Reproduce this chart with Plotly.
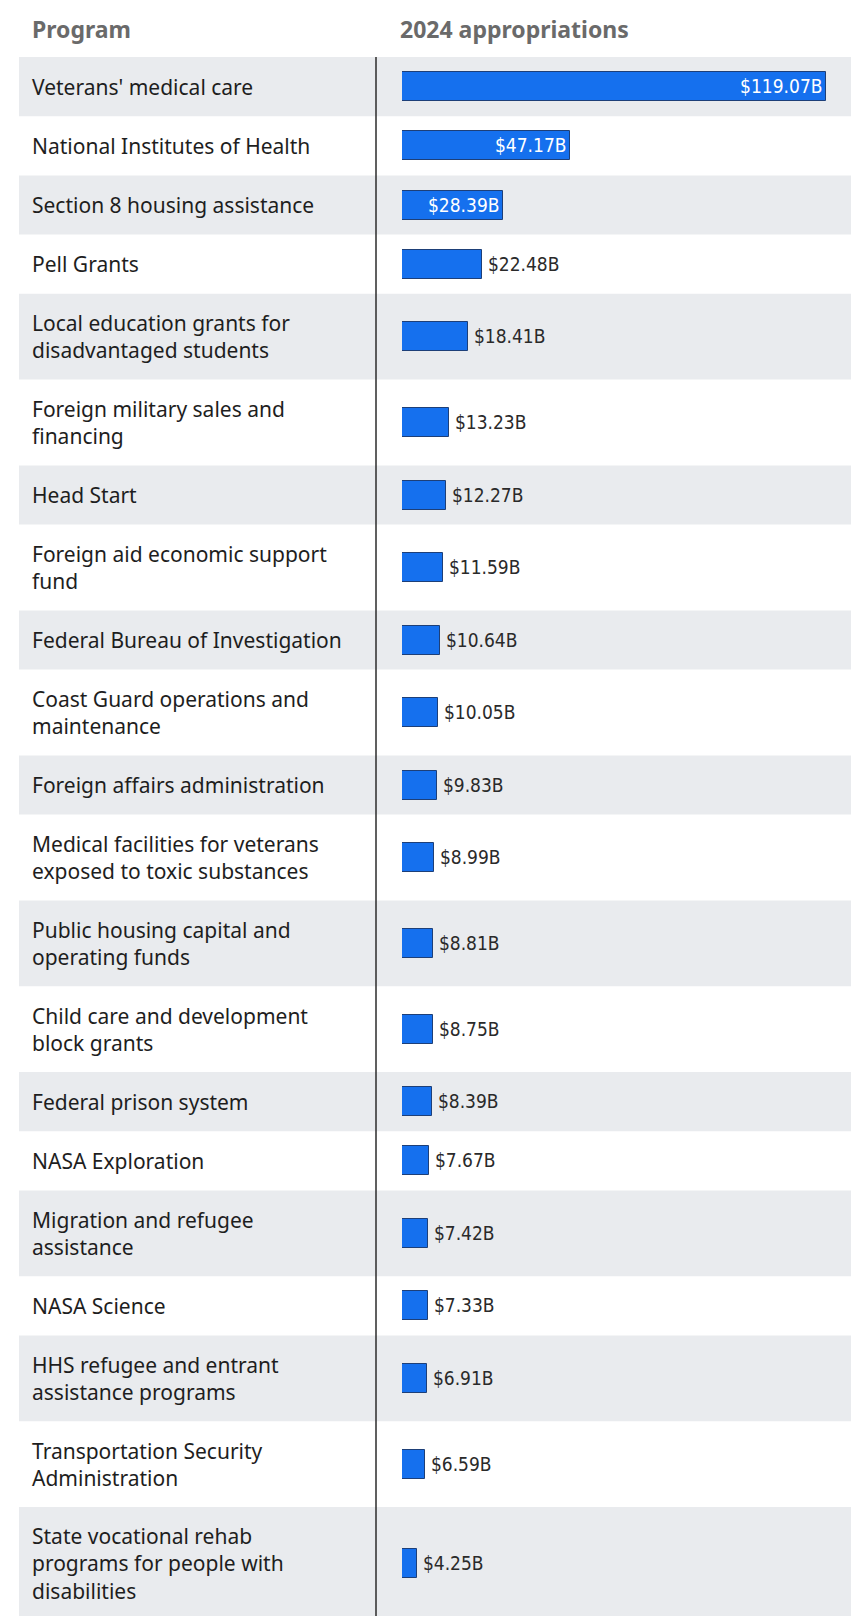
import plotly.graph_objects as go

programs = [
    "Veterans' medical care",
    "National Institutes of Health",
    "Section 8 housing assistance",
    "Pell Grants",
    "Local education grants for<br>disadvantaged students",
    "Foreign military sales and<br>financing",
    "Head Start",
    "Foreign aid economic support<br>fund",
    "Federal Bureau of Investigation",
    "Coast Guard operations and<br>maintenance",
    "Foreign affairs administration",
    "Medical facilities for veterans<br>exposed to toxic substances",
    "Public housing capital and<br>operating funds",
    "Child care and development<br>block grants",
    "Federal prison system",
    "NASA Exploration",
    "Migration and refugee<br>assistance",
    "NASA Science",
    "HHS refugee and entrant<br>assistance programs",
    "Transportation Security<br>Administration",
    "State vocational rehab<br>programs for people with<br>disabilities",
]
appropriations_b = [119.07, 47.17, 28.39, 22.48, 18.41, 13.23, 12.27, 11.59, 10.64,
                    10.05, 9.83, 8.99, 8.81, 8.75, 8.39, 7.67, 7.42, 7.33, 6.91, 6.59, 4.25]
label_inside = [True, True, True] + [False] * 18
headers = ["Program", "2024 appropriations"]

# page body has an 8px default margin: lay out in page pixels, then shift
OFF = 8
PAGE_W, PAGE_H = 866, 1616
W, H = PAGE_W - OFF, PAGE_H - OFF


def px(xp):
    return (xp - OFF) / W


def py(yp):
    return yp - OFF


HEADER_H = 57
PAD, LINE = 32.6, 26.6

tops, centers, bottoms = [], [], []
y = HEADER_H
for p in programs:
    n = p.count("<br>") + 1
    h = PAD + LINE * n
    tops.append(py(y))
    centers.append(py(y + h / 2))
    bottoms.append(py(y + h))
    y += h

BAR_X0 = 402
PX_PER_UNIT = 3.56
X_MAX = 125
x_end = BAR_X0 + PX_PER_UNIT * X_MAX

LABEL_FONT = "Liberation Sans Narrow, DejaVu Sans Condensed, Arial Narrow, sans-serif"

fig = go.Figure()
fig.add_trace(go.Bar(
    x=appropriations_b,
    y=centers,
    orientation="h",
    width=29,
    marker=dict(color="#1570ee", line=dict(color="#1d3f78", width=1)),
    texttemplate="\u2009$%{x:.2f}B",
    textposition=["inside" if v else "outside" for v in label_inside],
    insidetextanchor="end",
    insidetextfont=dict(color="white", size=19, family=LABEL_FONT),
    outsidetextfont=dict(color="#2a2a2a", size=19, family=LABEL_FONT),
    constraintext="none",
    cliponaxis=False,
    hoverinfo="skip",
))

shapes = []
for i in range(len(programs)):
    if i % 2 == 0:
        shapes.append(dict(type="rect", xref="paper", yref="y",
                           x0=px(19), x1=px(851), y0=tops[i], y1=bottoms[i],
                           fillcolor="#e9ebee", line=dict(width=0), layer="below"))
shapes.append(dict(type="line", xref="paper", yref="y", x0=px(376), x1=px(376),
                   y0=py(HEADER_H), y1=H, line=dict(color="#2b2b2b", width=1.5)))

annotations = []
for p, c in zip(programs, centers):
    annotations.append(dict(text=p, xref="paper", yref="y", x=px(30), y=c,
                            xanchor="left", yanchor="middle", align="left", showarrow=False,
                            font=dict(family="Noto Sans, Open Sans, sans-serif", size=21, color="#1e1e1e")))
annotations.append(dict(text="<b>" + headers[0] + "</b>", xref="paper", yref="y", x=px(30), y=py(29),
                        xanchor="left", yanchor="middle", showarrow=False,
                        font=dict(family="Noto Sans, Open Sans, sans-serif", size=23, color="#6a6a6a")))
annotations.append(dict(text="<b>" + headers[1] + "</b>", xref="paper", yref="y", x=px(398), y=py(29),
                        xanchor="left", yanchor="middle", showarrow=False,
                        font=dict(family="Noto Sans, Open Sans, sans-serif", size=23, color="#6a6a6a")))

fig.update_layout(
    width=W, height=H,
    margin=dict(l=0, r=0, t=0, b=0),
    paper_bgcolor="#ffffff",
    plot_bgcolor="rgba(0,0,0,0)",
    showlegend=False,
    shapes=shapes,
    annotations=annotations,
    xaxis=dict(domain=[px(BAR_X0), px(x_end)], range=[0, X_MAX], visible=False, fixedrange=True),
    yaxis=dict(domain=[0, 1], range=[H, 0], visible=False, fixedrange=True),
    bargap=0,
)

fig.write_html("out.html", config={"displayModeBar": False})
